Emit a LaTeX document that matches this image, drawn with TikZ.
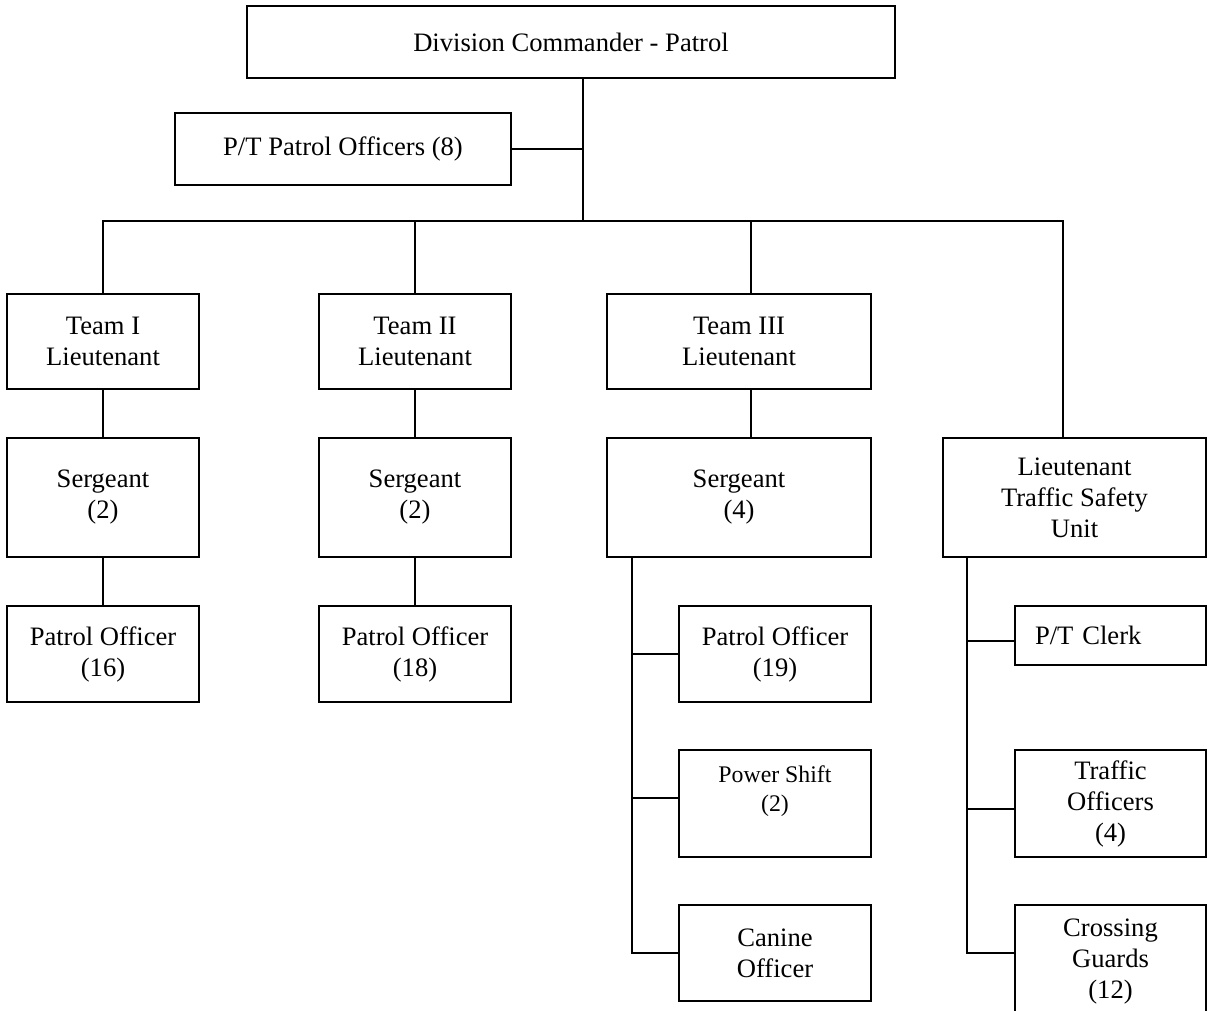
\documentclass[tikz,border=0pt]{standalone}
\usepackage{fontspec}
\setmainfont{Liberation Serif}
\usepackage{xcolor}
\usetikzlibrary{positioning,calc}

\begin{document}
\begin{tikzpicture}[x=1pt,y=-1pt,
    box/.style={draw,line width=2.4pt,inner sep=0pt,align=center,
      font=\fontsize{26.6}{31}\selectfont},
    link/.style={line width=2pt}]
  \clip (0,0) rectangle (1207,1010);
  % top of the chart
  \node[box,minimum width=648,minimum height=72] (div) at (571,42) {Division Commander - Patrol};
  \node[box,minimum width=336,minimum height=72] (pt) at (343,149) {P/T Patrol Officers (8)};
  \coordinate (bus) at (583,221);
  \coordinate (busR) at (1063,221);
  \coordinate (busT3) at (751,221);
  % teams
  \node[box,minimum width=192,minimum height=95] (t1) at (103,341.5) {Team I\\Lieutenant};
  \node[box,minimum width=192,minimum height=95] (t2) at (415,341.5) {Team II\\Lieutenant};
  \node[box,minimum width=264,minimum height=95] (t3) at (739,341.5) {Team III\\Lieutenant};
  \node[box,minimum width=192,minimum height=119] (s1) at (103,497.5) {Sergeant\\(2)};
  \node[box,minimum width=192,minimum height=119] (s2) at (415,497.5) {Sergeant\\(2)};
  \node[box,minimum width=264,minimum height=119] (s3) at (739,497.5) {Sergeant\\(4)};
  \node[box,minimum width=263,minimum height=119] (tsu) at (1074.5,497.5) {Lieutenant\\Traffic Safety\\Unit};
  \node[box,minimum width=192,minimum height=96] (p1) at (103,654) {Patrol Officer\\(16)};
  \node[box,minimum width=192,minimum height=96] (p2) at (415,654) {Patrol Officer\\(18)};
  % team III officers
  \node[box,minimum width=192,minimum height=96] (po3) at (775,654) {Patrol Officer\\(19)};
  \node[box,minimum width=192,minimum height=107,font=\fontsize{23.8}{29}\selectfont] (ps) at (775,803.5) {Power Shift\\(2)\\\mbox{}};
  \node[box,minimum width=192,minimum height=96] (can) at (775,953) {Canine\\Officer};
  % traffic safety unit
  \node[box,minimum width=191,minimum height=59,text width=151,inner xsep=20pt,align=left] (clerk) at (1110.5,635.5) {P/T Clerk};
  \node[box,minimum width=191,minimum height=107] (traf) at (1110.5,803.5) {Traffic\\Officers\\(4)};
  \node[box,minimum width=191,minimum height=114] (cross) at (1110.5,962) {Crossing\\Guards\\(12)};
  \coordinate (sp3) at (632,557);
  \coordinate (sp4) at (967,557);

  \draw[link] (div.south -| bus) -- (bus);
  \draw[link] (pt.east) -- (pt.east -| bus);
  \draw[link] (t1.north) |- (busR) -- (busR |- tsu.north);
  \draw[link] (t2.north) -- (t2.north |- bus);
  \draw[link] (busT3) -- (busT3 |- t3.north);
  \draw[link] (t1.south) -- (s1.north);
  \draw[link] (s1.south) -- (p1.north);
  \draw[link] (t2.south) -- (s2.north);
  \draw[link] (s2.south) -- (p2.north);
  \draw[link] (t3.south -| busT3) -- (s3.north -| busT3);
  \draw[link] (sp3) |- (can.west);
  \draw[link] (po3.west) -- (po3.west -| sp3);
  \draw[link] ($(ps.west)+(0,-5.5)$) -- ($(ps.west -| sp3)+(0,-5.5)$);
  \draw[link] (sp4) |- (cross.west |- can.west);
  \draw[link] ($(clerk.west)+(0,5.5)$) -- ($(clerk.west -| sp4)+(0,5.5)$);
  \draw[link] ($(traf.west)+(0,5.5)$) -- ($(traf.west -| sp4)+(0,5.5)$);
\end{tikzpicture}
\end{document}
